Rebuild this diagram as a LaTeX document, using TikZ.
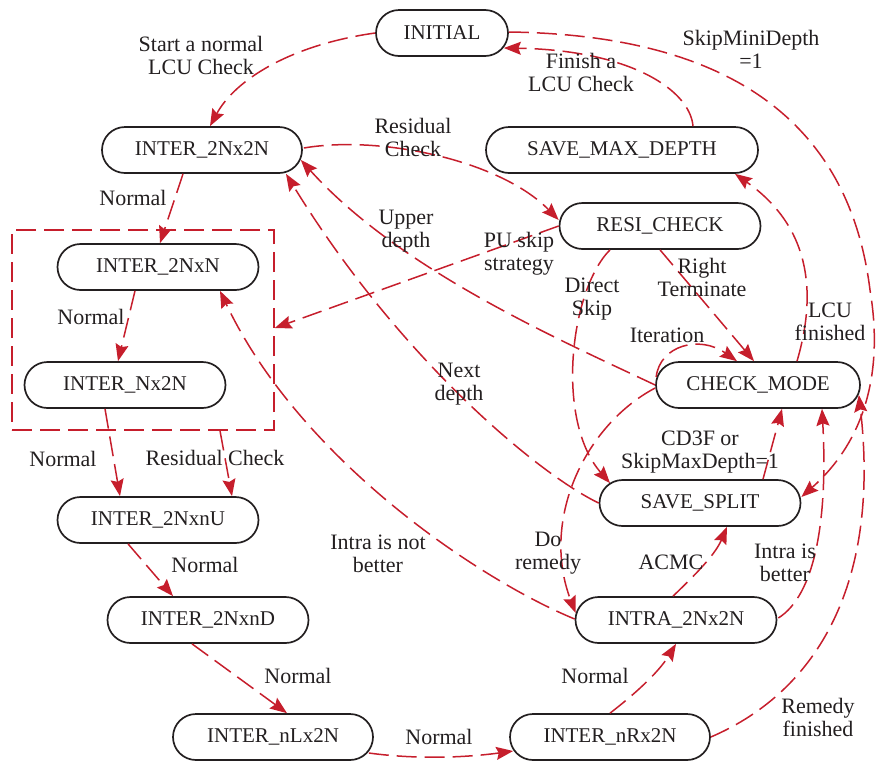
\documentclass[tikz,border=0pt]{standalone}
\usepackage{fontspec}
\setmainfont{Liberation Serif}
\usetikzlibrary{arrows.meta}
\definecolor{flow}{RGB}{198,30,44}
\definecolor{ink}{RGB}{35,31,32}
\tikzset{
  state/.style={draw=ink, line width=1.7pt, rounded corners=23pt, minimum height=46pt,
    inner sep=0pt, fill=white, text=ink, font=\fontsize{21}{24}\selectfont},
  tag/.style={text=ink, align=center, inner sep=0pt, font=\fontsize{22}{23}\selectfont},
  dashline/.style={draw=flow, line width=1.5pt, dash pattern=on 20pt off 8pt},
  link/.style={dashline, -{Stealth[length=17pt,width=13pt,inset=2.5pt]}},
}
\begin{document}
\begin{tikzpicture}[x=1pt,y=-1pt]
\useasboundingbox (0,0) rectangle (880,764);

% states
\node[state, minimum width=132pt] (init)  at (442,33)  {INITIAL};
\node[state, minimum width=200pt] (i2n2n) at (202,150) {INTER\_2Nx2N};
\node[state, minimum width=272pt] (smd)   at (622,150) {SAVE\_MAX\_DEPTH};
\node[state, minimum width=201pt] (resi)  at (660,226) {RESI\_CHECK};
\node[state, minimum width=201pt] (i2nn)  at (158,267) {INTER\_2NxN};
\node[state, minimum width=201pt] (inx2n) at (125,385) {INTER\_Nx2N};
\node[state, minimum width=204pt] (cm)    at (758,385) {CHECK\_MODE};
\node[state, minimum width=201pt] (ss)    at (700,503) {SAVE\_SPLIT};
\node[state, minimum width=201pt] (inu)   at (158,520) {INTER\_2NxnU};
\node[state, minimum width=201pt] (ind)   at (208,620) {INTER\_2NxnD};
\node[state, minimum width=201pt] (intra) at (676,620) {INTRA\_2Nx2N};
\node[state, minimum width=200pt] (inl)   at (273,737) {INTER\_nLx2N};
\node[state, minimum width=200pt] (inr)   at (610,737) {INTER\_nRx2N};

% dashed group around the 2NxN / Nx2N pair
\node[dashline, minimum width=262pt, minimum height=200pt, inner sep=0pt] (grp) at (143,330) {};

% transitions
\draw[link] (init.west) .. controls (290,45) and (235,80) .. ([shift={(8,0)}]i2n2n.north);
\draw[link] ([shift={(71,0)}]smd.north) .. controls (690,90) and (630,50) .. ([shift={(-5,15)}]init.east);
\coordinate (skipbend) at (870,290);
\draw[link] ([shift={(0,-1)}]init.east) .. controls (740,35) and (850,130) .. (skipbend)
  .. controls (885,380) and (860,445) .. ([shift={(0,-6)}]ss.east);
\draw[link] ([shift={(-19,0)}]i2n2n.south) -- ([shift={(2,0)}]i2nn.north);
\draw[link] ([shift={(1,-2)}]i2n2n.east) .. controls (380,135) and (500,160) .. ([shift={(0,-6)}]resi.west);
\draw[link] (cm.west) .. controls (560,340) and (400,270) .. ([shift={(-2,10)}]i2n2n.east);
\draw[link] (ss.west) .. controls (540,475) and (400,360) .. ([shift={(84,0)}]i2n2n.south);
\draw[link] (resi.west) -- ([shift={(0,-2)}]grp.east);
\draw[link] ([shift={(-50,0)}]resi.south) .. controls (570,290) and (555,420) .. ([shift={(-90,4)}]ss.north);
\draw[link] (resi.south) -- ([shift={(-4,0)}]cm.north);
\draw[link] ([shift={(1,-8)}]cm.west) .. controls (660,345) and (700,335) .. ([shift={(-21,0)}]cm.north);
\draw[link] ([shift={(39,0)}]cm.north) .. controls (815,300) and (815,230) .. ([shift={(113,0)}]smd.south);
\draw[link] ([shift={(0,3)}]cm.west) .. controls (585,425) and (540,520) .. ([shift={(1,-7)}]intra.west);
\draw[link] ([shift={(0,-1)}]intra.west) .. controls (480,580) and (300,460) .. ([shift={(62,0)}]i2nn.south);
\draw[link] ([shift={(-3,0)}]intra.north) .. controls (695,575) and (715,555) .. ([shift={(27,0)}]ss.south);
\draw[link] ([shift={(1,-2)}]intra.east) .. controls (815,595) and (828,520) .. ([shift={(64,0)}]cm.south);
\draw[link] ([shift={(63,0)}]ss.north) -- ([shift={(24,0)}]cm.south);
\draw[link] (inr.east) .. controls (820,690) and (880,580) .. ([shift={(-2,10)}]cm.east);
\draw[link] ([shift={(-20,0)}]inx2n.south) -- ([shift={(-38,0)}]inu.north);
\draw[link] ([shift={(77,0)}]grp.south) -- ([shift={(74,0)}]inu.north);
\draw[link] ([shift={(-23,0)}]i2nn.south) -- ([shift={(-7,0)}]inx2n.north);
\draw[link] ([shift={(-30,0)}]inu.south) -- ([shift={(-35,0)}]ind.north);
\draw[link] ([shift={(-16,0)}]ind.south) -- ([shift={(14,0)}]inl.north);
\draw[link] ([shift={(-5,16)}]inl.east) .. controls (420,760) and (470,757) .. ([shift={(4,14)}]inr.west);
\draw[link] (inr.north) .. controls (640,690) and (660,670) .. (intra.south);

% transition labels
\node[tag] (lstart) at (201,55)  {Start a normal\\LCU Check};
\node[tag] (lfin)   at (581,72)  {Finish a\\LCU Check};
\node[tag] (lskip)  at (751,49)  {SkipMiniDepth\\=1};
\node[tag] (lres)   at (413,137) {Residual\\Check};
\node[tag] (ln1)    at (133,198) {Normal};
\node[tag] (lup)    at (406,231) {Upper\\depth};
\node[tag] (lpu)    at (519,254) {PU skip\\strategy};
\node[tag] (ldir)   at (592,299) {Direct\\Skip};
\node[tag] (lright) at (702,277) {Right\\Terminate};
\node[tag] (liter)  at (667,335) {Iteration};
\node[tag] (llcu)   at (830,322) {LCU\\finished};
\node[tag] (lnext)  at (459,384) {Next\\depth};
\node[tag] (ln2)    at (91,317)  {Normal};
\node[tag] (ln3)    at (63,459)  {Normal};
\node[tag] (lres2)  at (215,458) {Residual Check};
\node[tag] (lcd)    at (700,452) {CD3F or\\SkipMaxDepth=1};
\node[tag] (ln4)    at (205,565) {Normal};
\node[tag] (lnot)   at (378,554) {Intra is not\\better};
\node[tag] (ldo)    at (548,553) {Do\\remedy};
\node[tag] (lacmc)  at (671,562) {ACMC};
\node[tag] (lbet)   at (785,563) {Intra is\\better};
\node[tag] (ln5)    at (298,676) {Normal};
\node[tag] (ln6)    at (439,737) {Normal};
\node[tag] (ln7)    at (595,676) {Normal};
\node[tag] (lrem)   at (818,717) {Remedy\\finished};
\end{tikzpicture}
\end{document}
